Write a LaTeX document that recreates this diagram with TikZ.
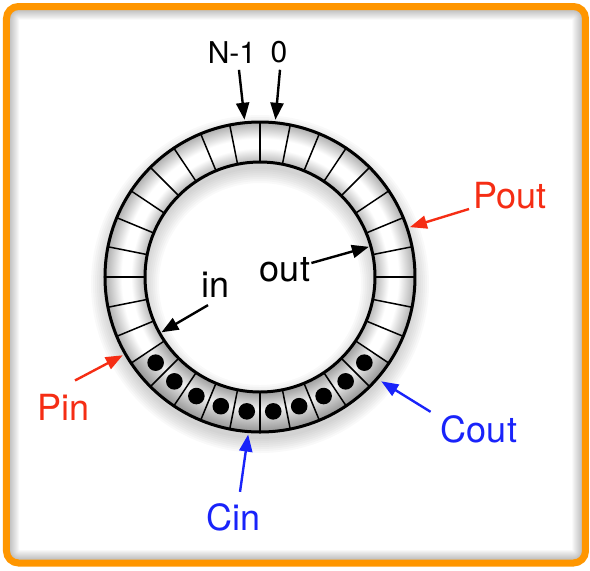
\documentclass[tikz,border=0pt]{standalone}
\usepackage{fontspec}
\setmainfont{TeX Gyre Heros}
\usetikzlibrary{arrows.meta}
\definecolor{frameorange}{RGB}{255,150,0}
\definecolor{pred}{RGB}{245,45,20}
\definecolor{cblue}{RGB}{25,35,250}
% empty cells: light at mid ring, grey at both rims
\pgfdeclareradialshading{cellshade}{\pgfpoint{0bp}{0bp}}{color(0bp)=(white); color(18.4bp)=(black!30); color(20.8bp)=(white); color(22.3bp)=(white); color(25bp)=(black!32); color(50bp)=(black!32)}
% full cells: a bit darker
\pgfdeclareradialshading{fullshade}{\pgfpoint{0bp}{0bp}}{color(0bp)=(white); color(18.4bp)=(black!40); color(21.3bp)=(black!6); color(25bp)=(black!42); color(50bp)=(black!42)}
\tikzset{
  ptr/.style={line width=1.2pt,-{Triangle[length=8.5pt,width=6.5pt]}},
  lbl/.style={font=\fontsize{18}{20}\selectfont,inner sep=0pt},
  idx/.style={font=\fontsize{15}{17}\selectfont,inner sep=0pt},
  frame/.style={rounded corners=6pt},
}
\begin{document}
\begin{tikzpicture}[x=0.5pt,y=0.5pt]
\useasboundingbox (-260,-293) rectangle (330,277);
% frame with inner shadow
\begin{scope}
\clip[frame] (-253.5,-286) rectangle (325.5,270.5);
\foreach \w in {2,4,...,26}
  \draw[frame,black,opacity=0.028,line width=\w*0.5pt] (-253.5,-286) rectangle (325.5,270.5);
\end{scope}
\draw[frame,frameorange,line width=3.5pt] (-253.5,-286) rectangle (325.5,270.5);
% ring shadow
\foreach \k in {0,2,...,14}
  \fill[black,opacity=0.025,even odd rule] (0,-7) circle (155+\k) (0,-7) circle (115-\k);
% ring
\fill[white,even odd rule] (0,0) circle (155) (0,0) circle (115);
\shade[shading=cellshade,even odd rule] (0,0) circle (155) (0,0) circle (115);
\begin{scope}
\clip (0,0) -- (213.75:220) arc[start angle=213.75,end angle=326.25,radius=220] -- cycle;
\shade[shading=fullshade,even odd rule] (0,0) circle (155) (0,0) circle (115);
\end{scope}
\foreach \a in {0,11.25,...,348.75}
  \draw[line width=0.75pt] (\a:115) -- (\a:155);
\foreach \a in {219.375,230.625,...,320.7}
  \fill (\a:135) circle (8.3);
\draw[line width=1.5pt] (0,0) circle (155) (0,0) circle (115);
% targets on the ring
\coordinate (nm1) at (95.625:158);
\coordinate (zero) at (84.375:158);
\coordinate (inp) at (209.3:113);
\coordinate (outp) at (15.5:113);
\coordinate (pin) at (209.7:158);
\coordinate (pout) at (18.4:158);
\coordinate (cout) at (319.3:160);
\coordinate (cin) at (265.7:158);
% labels
\node[idx] (lNm) at (-28,224.5) {N-1};
\node[idx] (lZero) at (19,224.5) {0};
\node[lbl] (lIn) at (-44,-8) {in};
\node[lbl] (lOut) at (25,7) {out};
\node[lbl,text=pred] (lPin) at (-196,-130) {Pin};
\node[lbl,text=pred] (lPout) at (250,81) {Pout};
\node[lbl,text=cblue] (lCout) at (219,-152) {Cout};
\node[lbl,text=cblue] (lCin) at (-26,-240) {Cin};
% pointers
\draw[ptr] ([shift={(7,-6)}]lNm.south) -- (nm1);
\draw[ptr] ([shift={(1,-6)}]lZero.south) -- (zero);
\draw[ptr] ([shift={(-8,-7)}]lIn.south) -- (inp);
\draw[ptr] ([shift={(1,7)}]lOut.east) -- (outp);
\draw[ptr,pred] ([shift={(11,13)}]lPin.north) -- (pin);
\draw[ptr,pred] ([shift={(-4,-13)}]lPout.west) -- (pout);
\draw[ptr,cblue] ([shift={(-10,3)}]lCout.north west) -- (cout);
\draw[ptr,cblue] ([shift={(6,11)}]lCin.north) -- (cin);
\end{tikzpicture}
\end{document}
